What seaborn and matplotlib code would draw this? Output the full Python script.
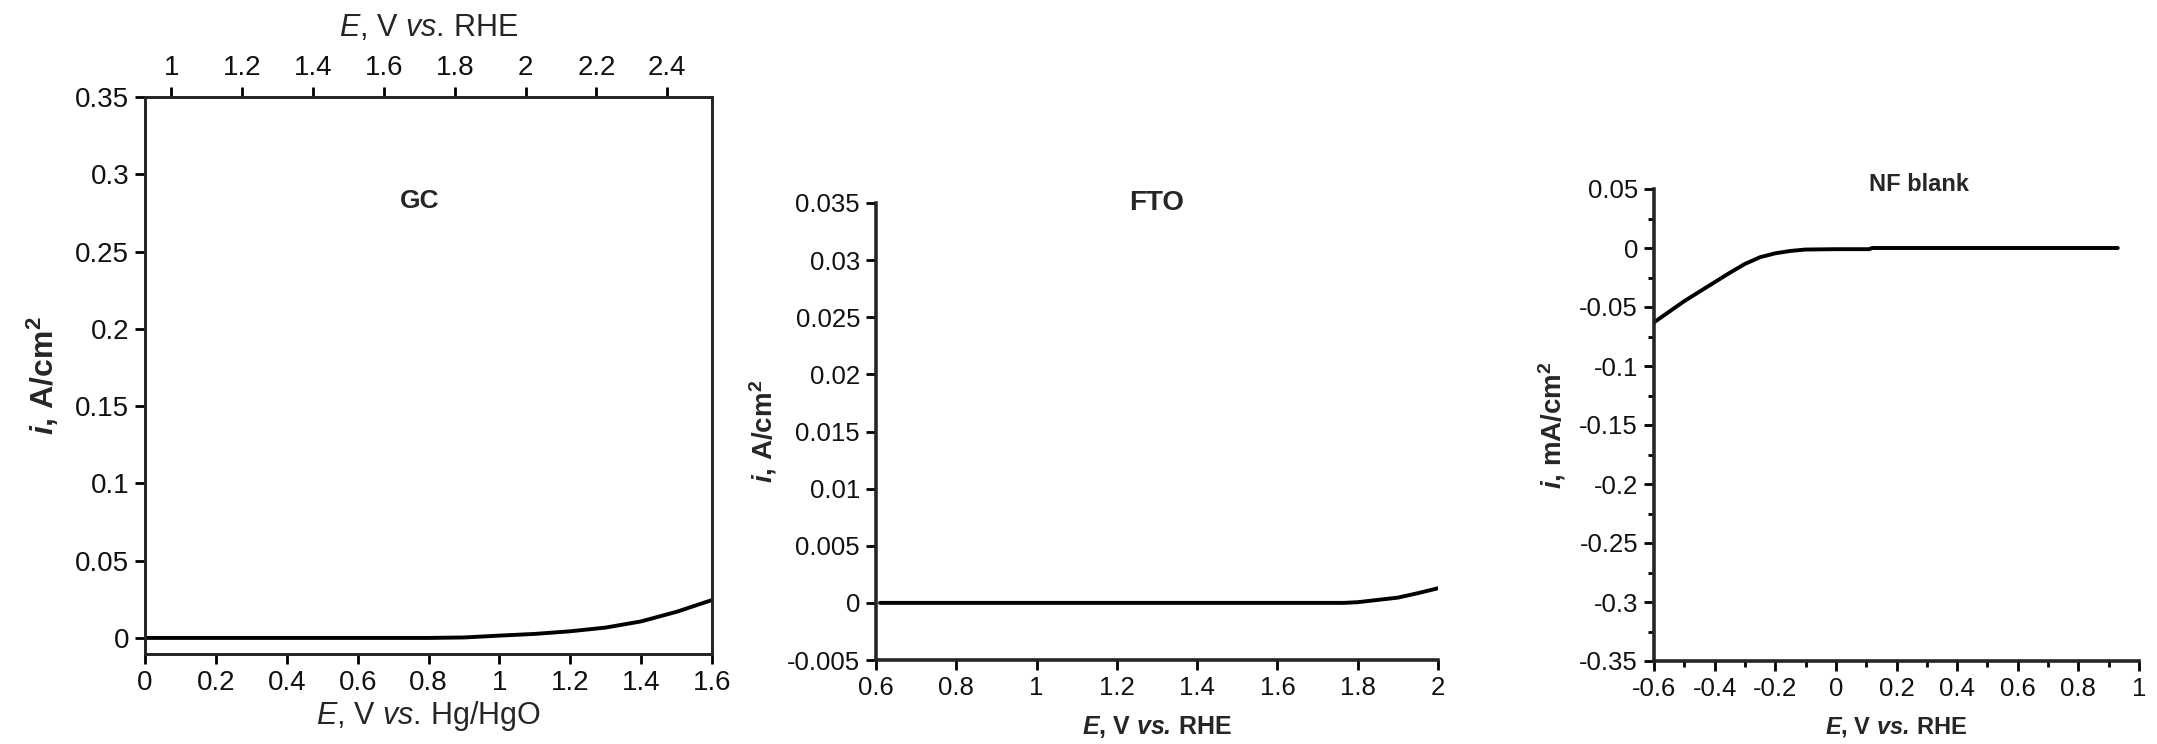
import matplotlib
matplotlib.use("Agg")
import matplotlib.pyplot as plt
import seaborn as sns

# ---- data ----
# Glassy carbon (GC), potential vs Hg/HgO, current density A/cm^2
gc_E = [0.0, 0.2, 0.4, 0.6, 0.8, 0.9, 1.0, 1.1, 1.2, 1.3, 1.4, 1.5, 1.6]
gc_i = [0.0, 0.0, 0.0, 0.0, 0.0, 0.0003, 0.0015, 0.0026, 0.0043, 0.0067, 0.0107, 0.0169, 0.0245]
gc_rhe_offset = 0.926  # E(RHE) = E(Hg/HgO) + offset

# FTO, potential vs RHE, current density A/cm^2
fto_E = [0.61, 0.8, 1.0, 1.2, 1.4, 1.6, 1.765, 1.8, 1.85, 1.9, 1.95, 2.0]
fto_i = [0.0, 0.0, 0.0, 0.0, 0.0, 0.0, 0.0, 0.00006, 0.00026, 0.00046, 0.00085, 0.00128]

# Nickel foam blank, potential vs RHE, current density mA/cm^2
nf_E = [-0.6, -0.55, -0.5, -0.45, -0.4, -0.35, -0.3, -0.25, -0.2, -0.15, -0.1, 0.0, 0.11, 0.12, 0.3, 0.6, 0.93]
nf_i = [-0.063, -0.054, -0.045, -0.037, -0.029, -0.021, -0.0135, -0.0078, -0.0045, -0.0025, -0.0013, -0.001, -0.001, 0.0, 0.0, 0.0, 0.0]

# tick labels
gc_xticks = [0, 0.2, 0.4, 0.6, 0.8, 1, 1.2, 1.4, 1.6]
gc_xticklabels = ["0", "0.2", "0.4", "0.6", "0.8", "1", "1.2", "1.4", "1.6"]
gc_top_ticks = [1, 1.2, 1.4, 1.6, 1.8, 2, 2.2, 2.4]
gc_top_ticklabels = ["1", "1.2", "1.4", "1.6", "1.8", "2", "2.2", "2.4"]
gc_yticks = [0, 0.05, 0.1, 0.15, 0.2, 0.25, 0.3, 0.35]
gc_yticklabels = ["0", "0.05", "0.1", "0.15", "0.2", "0.25", "0.3", "0.35"]

fto_xticks = [0.6, 0.8, 1.0, 1.2, 1.4, 1.6, 1.8, 2.0]
fto_xticklabels = ["0.6", "0.8", "1", "1.2", "1.4", "1.6", "1.8", "2"]
fto_yticks = [-0.005, 0, 0.005, 0.01, 0.015, 0.02, 0.025, 0.03, 0.035]
fto_yticklabels = ["-0.005", "0", "0.005", "0.01", "0.015", "0.02", "0.025", "0.03", "0.035"]

nf_xticks = [-0.6, -0.4, -0.2, 0, 0.2, 0.4, 0.6, 0.8, 1.0]
nf_xticklabels = ["-0.6", "-0.4", "-0.2", "0", "0.2", "0.4", "0.6", "0.8", "1"]
nf_yticks = [-0.35, -0.3, -0.25, -0.2, -0.15, -0.1, -0.05, 0, 0.05]
nf_yticklabels = ["-0.35", "-0.3", "-0.25", "-0.2", "-0.15", "-0.1", "-0.05", "0", "0.05"]

# ---- style ----
sns.set_style("ticks")
plt.rcParams["font.family"] = ["Liberation Sans", "DejaVu Sans"]
plt.rcParams["mathtext.fontset"] = "custom"
plt.rcParams["mathtext.rm"] = "Liberation Sans"
plt.rcParams["mathtext.it"] = "Liberation Sans:italic"
plt.rcParams["mathtext.bf"] = "Liberation Sans:bold"
plt.rcParams["mathtext.bfit"] = "Liberation Sans:bold:italic"
plt.rcParams["axes.linewidth"] = 2.0

fig = plt.figure(figsize=(21.57, 7.44), dpi=100)
W, H = 2157, 744


def box(l, t, r, b):
    return [l / W, 1 - b / H, (r - l) / W, (b - t) / H]


def style_ticks(ax, size, length=7.5, width=2.0):
    ax.tick_params(which="major", direction="out", length=length, width=width,
                   labelsize=size, color="black", labelcolor="#111111", pad=4)
    ax.tick_params(which="minor", direction="out", length=4, width=width, color="black")


# ---- GC ----
ax1 = fig.add_axes(box(145, 97, 712, 654))
sns.lineplot(x=gc_E, y=gc_i, ax=ax1, color="black", linewidth=2.8,
             estimator=None, sort=False)
ax1.set_xlim(0, 1.6)
ax1.set_ylim(-0.0104, 0.35)
ax1.set_xticks(gc_xticks, gc_xticklabels)
ax1.set_yticks(gc_yticks, gc_yticklabels)
style_ticks(ax1, 20)
for s in ax1.spines.values():
    s.set_visible(True)
    s.set_linewidth(2.0)
ax1.set_xlabel(r"$\it{E}$, V $\it{vs.}\,$Hg/HgO", fontsize=22, labelpad=2)
ax1.set_ylabel(r"$\mathbfit{i}$, A/cm$^{\mathbf{2}}$", fontsize=23,
               fontweight="bold", labelpad=10)
ax1.text(0.775, 0.283, "GC", fontsize=19, fontweight="bold", ha="center", va="center")

top = ax1.twiny()
top.set_xlim(0 + gc_rhe_offset, 1.6 + gc_rhe_offset)
top.set_xticks(gc_top_ticks, gc_top_ticklabels)
style_ticks(top, 20)
top.set_xlabel(r"$\it{E}$, V $\it{vs.}\,$RHE", fontsize=22, labelpad=14)
top.tick_params(axis="x", which="major", top=True, bottom=False)

# ---- FTO ----
ax2 = fig.add_axes(box(876, 203, 1438, 660))
sns.lineplot(x=fto_E, y=fto_i, ax=ax2, color="black", linewidth=2.8,
             estimator=None, sort=False)
ax2.set_xlim(0.6, 2.0)
ax2.set_ylim(-0.005, 0.035)
ax2.set_xticks(fto_xticks, fto_xticklabels)
ax2.set_yticks(fto_yticks, fto_yticklabels)
style_ticks(ax2, 18.5)
sns.despine(ax=ax2)
ax2.spines["left"].set_linewidth(2.6)
ax2.spines["bottom"].set_linewidth(2.6)
ax2.set_xlabel(r"$\mathbfit{E}$, V $\mathbfit{vs.}\,$RHE", fontsize=18,
               fontweight="bold", labelpad=10)
ax2.set_ylabel(r"$\mathbfit{i}$, A/cm$^{\mathbf{2}}$", fontsize=20,
               fontweight="bold", labelpad=6)
ax2.text(0.5, 1.0, "FTO", transform=ax2.transAxes, fontsize=20,
         fontweight="bold", ha="center", va="center")

# ---- NF blank ----
ax3 = fig.add_axes(box(1654, 189, 2139, 661))
sns.lineplot(x=nf_E, y=nf_i, ax=ax3, color="black", linewidth=2.8,
             estimator=None, sort=False)
ax3.set_xlim(-0.6, 1.0)
ax3.set_ylim(-0.35, 0.05)
ax3.set_xticks(nf_xticks, nf_xticklabels)
ax3.set_yticks(nf_yticks, nf_yticklabels)
ax3.xaxis.set_minor_locator(matplotlib.ticker.MultipleLocator(0.1))
ax3.yaxis.set_minor_locator(matplotlib.ticker.MultipleLocator(0.025))
style_ticks(ax3, 18.5)
sns.despine(ax=ax3)
ax3.spines["left"].set_linewidth(2.6)
ax3.spines["bottom"].set_linewidth(2.6)
ax3.set_xlabel(r"$\mathbfit{E}$, V $\mathbfit{vs.}\,$RHE", fontsize=17,
               fontweight="bold", labelpad=10)
ax3.set_ylabel(r"$\mathbfit{i}$, mA/cm$^{\mathbf{2}}$", fontsize=20,
               fontweight="bold", labelpad=8)
ax3.text(0.546, 1.01, "NF blank", transform=ax3.transAxes, fontsize=17,
         fontweight="bold", ha="center", va="center")

fig.savefig("out.png", dpi=100)
